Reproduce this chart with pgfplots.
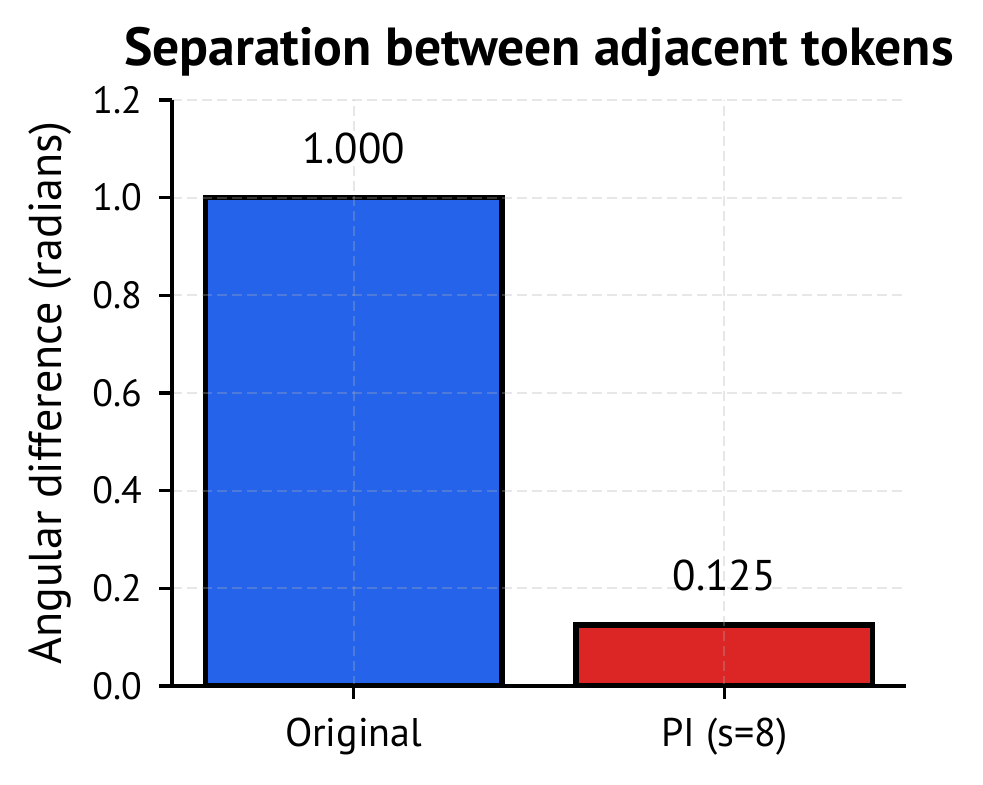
\documentclass[border=0pt]{standalone}
\usepackage{fontspec}
\setmainfont{PT Sans}
\usepackage{pgfplots}
\pgfplotsset{compat=1.18}
\definecolor{barblue}{RGB}{37,99,235}
\definecolor{barred}{RGB}{220,38,38}
\definecolor{gridgray}{RGB}{176,176,176}
\begin{document}
\begin{tikzpicture}
\path[use as bounding box] (-86pt,-49pt) rectangle (405.5pt,343pt);
\begin{axis}[
  at={(0,0)}, anchor=south west,
  scale only axis,
  width=367pt, height=293pt,
  xmin=-0.49, xmax=1.49,
  ymin=0, ymax=1.2,
  xtick={0,1}, xticklabels={Original, PI (s=8)},
  ytick={0,0.2,0.4,0.6,0.8,1.0,1.2},
  axis x line*=bottom, axis y line*=left,
  axis line style={line width=1.6pt, -},
  tick align=outside,
  major tick length=6.5pt,
  tick style={line width=1.6pt, black},
  /pgf/number format/assume math mode=true,
  yticklabel style={/pgf/number format/fixed, /pgf/number format/fixed zerofill, /pgf/number format/precision=1, font=\fontsize{19}{22}\selectfont, xshift=-5pt},
  xticklabel style={font=\fontsize{20}{23}\selectfont, yshift=-6pt},
  grid=major,
  grid style={dashed, dash pattern=on 5pt off 2.5pt, line width=1pt, color=gridgray, opacity=0.3},
  axis on top,
  ylabel={Angular difference (radians)},
  ylabel style={at={(axis description cs:0,0.5)}, anchor=center, yshift=61pt, font=\fontsize{23}{26}\selectfont},
  title={Separation between adjacent tokens},
  title style={at={(axis description cs:0.5,1)}, anchor=base, yshift=11.5pt, font=\fontsize{26.8}{30}\selectfont\bfseries},
  ybar, bar width=0.8, bar shift=0pt,
  nodes near coords,
  nodes near coords style={anchor=base, yshift=17pt, font=\fontsize{21.5}{24}\selectfont, /pgf/number format/fixed, /pgf/number format/fixed zerofill, /pgf/number format/precision=3, /pgf/number format/assume math mode=true, opacity=1},
]
\addplot[fill=barblue, draw=black, line width=2.6pt] coordinates {(0,1.0)};
\addplot[fill=barred, draw=black, line width=2.6pt] coordinates {(1,0.125)};
\end{axis}
\end{tikzpicture}
\end{document}
